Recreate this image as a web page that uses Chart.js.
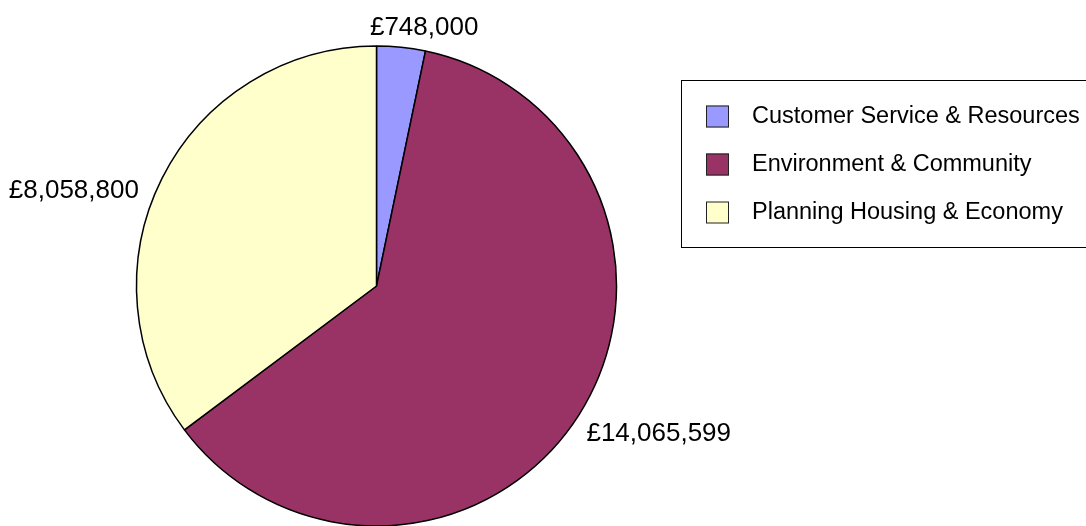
<!DOCTYPE html>
<html>
<head>
<meta charset="utf-8">
<script src="https://cdn.jsdelivr.net/npm/chart.js@4"></script>
<style>
  html, body { margin: 0; padding: 0; background: #ffffff; }
  canvas { display: block; }
</style>
</head>
<body>
<canvas id="budgetPie" width="1086" height="526"></canvas>
<script>
// Budget by directorate
const categories = ['Customer Service & Resources', 'Environment & Community', 'Planning Housing & Economy'];
const budgets = [748000, 14065599, 8058800];
const sliceColors = ['#9999FF', '#993366', '#FFFFCC'];

const FONT = '"Liberation Sans", Arial, Helvetica, sans-serif';

function formatPounds(v) {
  return '£' + v.toLocaleString('en-GB');
}

// Value labels placed just outside each slice, nudged the way the
// spreadsheet-style layout sets them.
const labelNudge = [[22, 4], [-1, 14], [-14, 17]];

const valueLabelPlugin = {
  id: 'valueLabels',
  afterDatasetsDraw(chart) {
    const ctx = chart.ctx;
    const meta = chart.getDatasetMeta(0);
    ctx.save();
    ctx.font = '26px ' + FONT;
    ctx.fillStyle = '#000000';
    meta.data.forEach((arc, i) => {
      const p = arc.getProps(['x', 'y', 'startAngle', 'endAngle', 'outerRadius'], true);
      const mid = (p.startAngle + p.endAngle) / 2;
      const dx = Math.cos(mid), dy = Math.sin(mid);
      const r = p.outerRadius + 10;
      let ax = p.x + dx * r, ay = p.y + dy * r;
      let align = 'center', base = 'middle';
      if (dx > 0.3) align = 'left';
      else if (dx < -0.3) align = 'right';
      else base = dy < 0 ? 'bottom' : 'top';
      ctx.textAlign = align;
      ctx.textBaseline = base;
      ctx.fillText(formatPounds(budgets[i]), ax + labelNudge[i][0], ay + labelNudge[i][1]);
    });
    ctx.restore();
  }
};

// Boxed legend on the right
const boxLegendPlugin = {
  id: 'boxLegend',
  afterDraw(chart) {
    const ctx = chart.ctx;
    ctx.save();
    ctx.strokeStyle = '#000000';
    ctx.lineWidth = 1;
    ctx.strokeRect(681.5, 80.5, 430, 167);
    ctx.font = '23.5px ' + FONT;
    ctx.textAlign = 'left';
    ctx.textBaseline = 'middle';
    categories.forEach((name, i) => {
      const cy = 116.5 + i * 48;
      ctx.fillStyle = sliceColors[i];
      ctx.fillRect(706, cy - 11, 23, 22);
      ctx.strokeStyle = '#222222';
      ctx.strokeRect(706.5, cy - 10.5, 22, 21);
      ctx.fillStyle = '#000000';
      ctx.fillText(name, 752, cy);
    });
    ctx.restore();
  }
};

new Chart(document.getElementById('budgetPie'), {
  type: 'pie',
  data: {
    labels: categories,
    datasets: [{
      data: budgets,
      backgroundColor: sliceColors,
      borderColor: '#000000',
      borderWidth: 1.5
    }]
  },
  options: {
    responsive: false,
    animation: false,
    radius: 240,
    layout: { padding: { left: 0, right: 333, top: 46, bottom: 0 } },
    plugins: {
      legend: { display: false },
      tooltip: { enabled: false }
    }
  },
  plugins: [valueLabelPlugin, boxLegendPlugin]
});
</script>
</body>
</html>
